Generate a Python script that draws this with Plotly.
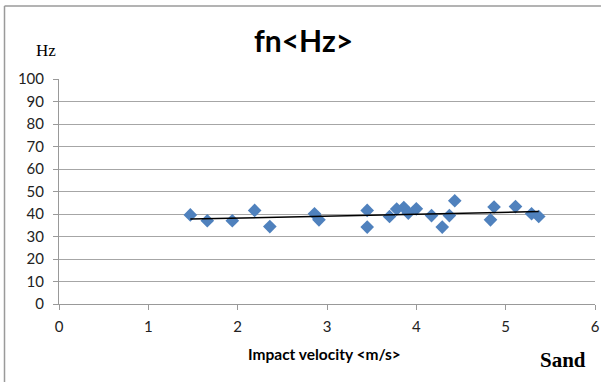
import numpy as np
import plotly.graph_objects as go

# Impact velocity (m/s) and natural frequency fn (Hz)
velocity = [1.47, 1.66, 1.94, 2.19, 2.36, 2.86, 2.91, 3.45, 3.45, 3.70, 3.78, 3.86,
            3.91, 4.00, 4.17, 4.29, 4.37, 4.43, 4.83, 4.87, 5.11, 5.29, 5.37]
fn_hz = [39.6, 37.0, 37.0, 41.6, 34.4, 40.1, 37.4, 41.6, 34.2, 38.9, 42.2, 42.9,
         40.4, 42.3, 39.3, 34.2, 39.3, 45.9, 37.4, 43.1, 43.3, 40.1, 38.9]

x_ticks = [0, 1, 2, 3, 4, 5, 6]
y_ticks = [0, 10, 20, 30, 40, 50, 60, 70, 80, 90, 100]

# linear trend line
slope, intercept = np.polyfit(velocity, fn_hz, 1)
trend_x = [min(velocity), max(velocity)]
trend_y = [slope * v + intercept for v in trend_x]

L, R, T, B = 59, 4, 79, 78
W, H = 604, 382
pw = W - L - R
ph = H - T - B

def px(xp):
    return (xp - L) / pw

def py(yp):
    return (H - B - yp) / ph

fig = go.Figure()
fig.add_trace(go.Scatter(
    x=velocity, y=fn_hz, mode="markers",
    marker=dict(symbol="diamond", size=10.5, color="#4F81BD", line=dict(width=0)),
    showlegend=False, cliponaxis=False))
fig.add_trace(go.Scatter(
    x=trend_x, y=trend_y, mode="lines",
    line=dict(color="black", width=1.5), showlegend=False))

tickfont = dict(family="Lato, Open Sans, sans-serif", size=15, color="#222")
fig.update_xaxes(range=[0, 6], tickvals=x_ticks, showgrid=False, zeroline=False,
                 showline=True, linecolor="#999", linewidth=1,
                 ticks="outside", ticklen=5, tickcolor="#999", tickfont=tickfont,
                 ticklabelstandoff=4, ticklabeloverflow="allow")
fig.update_yaxes(range=[0, 100], tickvals=y_ticks, showgrid=True, gridcolor="#a6a6a6",
                 gridwidth=1, zeroline=False, showline=True, linecolor="#999", linewidth=1,
                 ticks="outside", ticklen=5, tickcolor="#999", tickfont=tickfont,
                 ticklabelstandoff=6)

annotations = [
    dict(text="<b>fn&lt;Hz&gt;</b>", x=px(306), y=py(40),
         font=dict(family="Lato, Open Sans, sans-serif", size=30, color="black")),
    dict(text="Hz", x=px(46), y=py(50),
         font=dict(family="Liberation Serif, serif", size=17, color="black")),
    dict(text="<b>Impact velocity &lt;m/s&gt;</b>", x=px(327), y=py(354),
         font=dict(family="Lato, Open Sans, sans-serif", size=15.5, color="black")),
    dict(text="<b>Sand</b>", x=px(568), y=py(360),
         font=dict(family="Liberation Serif, serif", size=21, color="black")),
]
for a in annotations:
    a.update(xref="paper", yref="paper", showarrow=False, xanchor="center", yanchor="middle")

shapes = [
    dict(type="line", xref="paper", yref="paper", x0=px(4), x1=px(4), y0=py(6), y1=py(384),
         line=dict(color="#9a9a9a", width=1.5)),
    dict(type="line", xref="paper", yref="paper", x0=px(4), x1=px(606), y0=py(6), y1=py(6),
         line=dict(color="#9a9a9a", width=1.5)),
]

fig.update_layout(width=W, height=H, margin=dict(l=L, r=R, t=T, b=B),
                  plot_bgcolor="white", paper_bgcolor="white",
                  annotations=annotations, shapes=shapes)
fig.write_html("out.html")
